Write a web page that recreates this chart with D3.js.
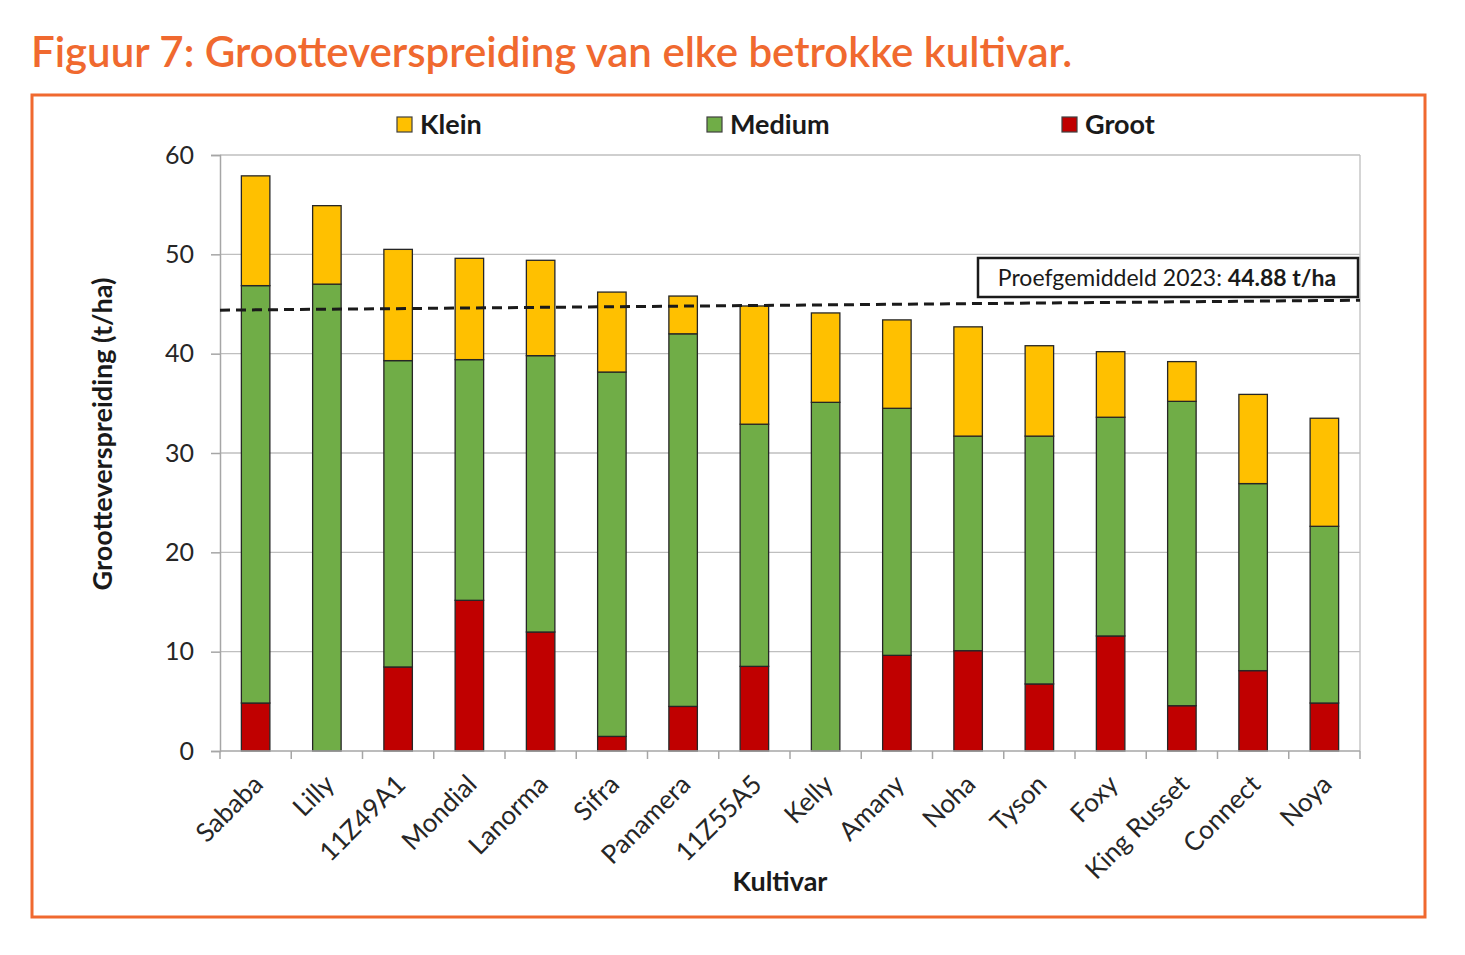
<!DOCTYPE html>
<html>
<head>
<meta charset="utf-8">
<script src="https://cdn.jsdelivr.net/npm/d3@7"></script>
<style>
  body { margin: 0; background: #fff; }
  svg text { font-family: Lato, "Open Sans", sans-serif; }
</style>
</head>
<body>
<div id="chart"></div>
<script>
// data
const cultivars = ["Sababa", "Lilly", "11Z49A1", "Mondial", "Lanorma", "Sifra", "Panamera", "11Z55A5",
  "Kelly", "Amany", "Noha", "Tyson", "Foxy", "King Russet", "Connect", "Noya"];
const groot  = [4.83, 0, 8.46, 15.17, 11.98, 1.47, 4.49, 8.52, 0, 9.63, 10.10, 6.75, 11.58, 4.56, 8.09, 4.83];
const medium = [42.02, 47.00, 30.84, 24.23, 27.82, 36.68, 37.51, 24.38, 35.10, 24.87, 21.60, 24.95, 22.02, 30.64, 18.83, 17.79];
const klein  = [11.05, 7.90, 11.20, 10.20, 9.60, 8.05, 3.80, 11.90, 9.00, 8.90, 11.00, 9.10, 6.60, 4.00, 8.98, 10.88];
const yTicks = [0, 10, 20, 30, 40, 50, 60];
const averageLine = [44.38, 45.38];   // dashed trial-average line, left and right end
const seriesNames = ["Groot", "Medium", "Klein"];
const legendOrder = ["Klein", "Medium", "Groot"];

const colours = {Klein: "#FFC000", Medium: "#70AD47", Groot: "#C00000"};
const orange = "#F0692F";

const W = 1465, H = 955;
const margin = {top: 155, left: 220, right: 105, bottom: 204};
const plotW = W - margin.left - margin.right,
      plotH = H - margin.top - margin.bottom;

const svg = d3.select("#chart").append("svg")
  .attr("width", W).attr("height", H);

// title + frame
svg.append("text")
  .attr("x", 31).attr("y", 67)
  .attr("fill", orange)
  .style("font-size", "42px").style("font-weight", 600)
  .text("Figuur 7: Grootteverspreiding van elke betrokke kultivar.");

svg.append("rect")
  .attr("x", 32).attr("y", 95).attr("width", 1393).attr("height", 822)
  .attr("fill", "none").attr("stroke", orange).attr("stroke-width", 3);

const g = svg.append("g").attr("transform", `translate(${margin.left},${margin.top})`);

const x = d3.scaleBand().domain(cultivars).range([0, plotW]).paddingInner(0.6).paddingOuter(0.3);
const y = d3.scaleLinear().domain([0, 60]).range([plotH, 0]);

// gridlines
g.append("g").selectAll("line").data(yTicks.filter(d => d > 0)).join("line")
  .attr("x1", 0).attr("x2", plotW)
  .attr("y1", d => y(d)).attr("y2", d => y(d))
  .attr("stroke", "#BFBFBF").attr("stroke-width", 1.3);

// right border of plot area
g.append("line").attr("x1", plotW).attr("x2", plotW).attr("y1", 0).attr("y2", plotH)
  .attr("stroke", "#BFBFBF").attr("stroke-width", 1.3);

// y axis
const yAxis = g.append("g")
  .call(d3.axisLeft(y).tickValues(yTicks).tickSize(9).tickPadding(17));
yAxis.select(".domain").attr("stroke", "#A6A6A6").attr("stroke-width", 1.5);
yAxis.selectAll(".tick line").attr("stroke", "#A6A6A6").attr("stroke-width", 1.5);
yAxis.selectAll(".tick text").style("font-size", "25px").attr("fill", "#262626")
  .style("font-family", "Lato, sans-serif");

// stacked bars
const rows = cultivars.map((c, i) => ({cultivar: c, Groot: groot[i], Medium: medium[i], Klein: klein[i]}));
const stack = d3.stack().keys(seriesNames)(rows);

g.append("g").selectAll("g").data(stack).join("g")
  .attr("fill", d => colours[d.key])
  .selectAll("rect").data(d => d.filter(s => s[1] - s[0] > 0)).join("rect")
    .attr("x", d => x(d.data.cultivar))
    .attr("width", x.bandwidth())
    .attr("y", d => y(d[1]))
    .attr("height", d => y(d[0]) - y(d[1]))
    .attr("stroke", "#262626").attr("stroke-width", 1.3);

// x axis with ticks at category boundaries
const xAxisG = g.append("g").attr("transform", `translate(0,${plotH})`);
xAxisG.append("line").attr("x1", 0).attr("x2", plotW)
  .attr("stroke", "#A6A6A6").attr("stroke-width", 1.5);
const step = x.step();
xAxisG.selectAll(".bound").data(d3.range(cultivars.length + 1)).join("line")
  .attr("class", "bound")
  .attr("x1", i => i * step).attr("x2", i => i * step)
  .attr("y1", 0).attr("y2", 8)
  .attr("stroke", "#A6A6A6").attr("stroke-width", 1.5);

xAxisG.selectAll(".lbl").data(cultivars).join("text")
  .attr("class", "lbl")
  .attr("text-anchor", "end")
  .attr("transform", d => `translate(${x(d) + x.bandwidth() / 2 + 9},${35}) rotate(-45)`)
  .attr("fill", "#262626")
  .style("font-size", "26px")
  .text(d => d);

// dashed average line
g.append("line")
  .attr("x1", 0).attr("x2", plotW)
  .attr("y1", y(averageLine[0])).attr("y2", y(averageLine[1]))
  .attr("stroke", "#1A1A1A").attr("stroke-width", 3)
  .attr("stroke-dasharray", "10,6");

// annotation box
svg.append("rect")
  .attr("x", 978).attr("y", 258).attr("width", 380).attr("height", 39)
  .attr("fill", "#fff").attr("stroke", "#1A1A1A").attr("stroke-width", 2.5);
const ann = svg.append("text")
  .attr("x", 1167).attr("y", 286).attr("text-anchor", "middle")
  .attr("fill", "#1A1A1A").style("font-size", "23px");
ann.append("tspan").text("Proefgemiddeld 2023: ");
ann.append("tspan").style("font-weight", 700).text("44.88 t/ha");

// legend
const legendX = {Klein: 397, Medium: 707, Groot: 1062};
const leg = svg.append("g").selectAll("g").data(legendOrder).join("g")
  .attr("transform", d => `translate(${legendX[d]},117)`);
leg.append("rect").attr("width", 15).attr("height", 15)
  .attr("fill", d => colours[d]).attr("stroke", "#404040").attr("stroke-width", 1.2);
leg.append("text").attr("x", 23).attr("y", 17)
  .attr("fill", "#1A1A1A").style("font-size", "27px").style("font-weight", 700)
  .text(d => d);

// axis titles
svg.append("text")
  .attr("transform", "translate(112,434) rotate(-90)")
  .attr("text-anchor", "middle")
  .attr("fill", "#1A1A1A").style("font-size", "27px").style("font-weight", 700)
  .text("Grootteverspreiding (t/ha)");

svg.append("text")
  .attr("x", 780).attr("y", 891).attr("text-anchor", "middle")
  .attr("fill", "#1A1A1A").style("font-size", "27px").style("font-weight", 700)
  .text("Kultivar");
</script>
</body>
</html>
